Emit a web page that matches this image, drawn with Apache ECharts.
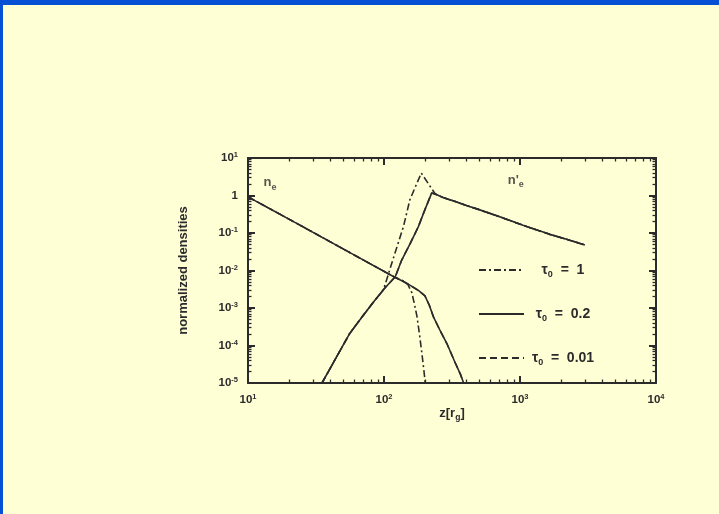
<!DOCTYPE html>
<html>
<head>
<meta charset="utf-8">
<script src="https://cdn.jsdelivr.net/npm/echarts@6/dist/echarts.min.js"></script>
<style>
  html, body { margin: 0; padding: 0; background: #ffffd6; }
  #chart { position: absolute; left: 0; top: 0; width: 719px; height: 514px; }
  .frame-top { position: absolute; left: 0; top: 0; width: 719px; height: 5px; background: #0650d5; }
  .frame-left { position: absolute; left: 0; top: 0; width: 3px; height: 514px; background: #0650d5; }
</style>
</head>
<body>
<div id="chart"></div>
<div class="frame-top"></div>
<div class="frame-left"></div>
<script>
// Axis decades (z in units of r_g, densities normalized)
const zTicks = [10, 100, 1000, 10000];
const densityTicks = [1e-5, 1e-4, 1e-3, 1e-2, 1e-1, 1, 10];

// Optical depth values shown in the legend
const tauValues = ['1', '0.2', '0.01'];

// n_e profiles
const neTau1 = [[10, 0.92], [20, 0.235], [40, 0.059], [80, 0.0148], [120, 0.0066], [140, 0.0052],
  [150, 0.0042], [160, 0.0026], [168, 0.0012], [175, 5.8e-4], [183, 1.8e-4], [190, 6.1e-5],
  [197, 2e-5], [201, 1e-5]];
const neTau02 = [[10, 0.92], [20, 0.235], [40, 0.059], [80, 0.0148], [120, 0.0066], [140, 0.0050],
  [156, 0.0040], [180, 0.0029], [200, 0.0021], [215, 0.0012], [231, 5.8e-4], [260, 2.4e-4],
  [290, 1.13e-4], [330, 3.8e-5], [365, 1.7e-5], [385, 1e-5]];
const neTau001 = [[10, 0.92], [20, 0.235], [40, 0.059], [80, 0.0148], [120, 0.0066], [140, 0.0050],
  [156, 0.0040], [180, 0.0029], [200, 0.0021], [215, 0.0012], [231, 5.8e-4], [260, 2.4e-4],
  [290, 1.13e-4], [330, 3.8e-5], [365, 1.7e-5], [385, 1e-5]];

// n'_e profiles
const nePrimeTau1 = [[35, 1e-5], [45, 5.1e-5], [56, 2.1e-4], [70, 6.2e-4], [84, 1.47e-3], [99, 3.0e-3],
  [116, 0.019], [139, 0.148], [155, 0.77], [188, 3.97], [238, 1.1], [272, 0.88], [330, 0.70],
  [404, 0.54], [500, 0.42], [710, 0.27], [1054, 0.16], [1656, 0.092], [2200, 0.068], [3000, 0.048]];
const nePrimeTau02 = [[35, 1e-5], [45, 5.1e-5], [56, 2.1e-4], [70, 6.2e-4], [84, 1.47e-3], [100, 3.2e-3],
  [121, 6.8e-3], [135, 0.019], [156, 0.053], [179, 0.148], [200, 0.42], [224, 1.16], [240, 1.08],
  [272, 0.88], [330, 0.70], [404, 0.54], [500, 0.42], [710, 0.27], [1054, 0.16], [1656, 0.092],
  [2200, 0.068], [3000, 0.048]];
const nePrimeTau001 = [[35, 1e-5], [45, 5.1e-5], [56, 2.1e-4], [70, 6.2e-4], [84, 1.47e-3], [100, 3.2e-3],
  [121, 6.8e-3], [135, 0.019], [156, 0.053], [179, 0.148], [200, 0.42], [224, 1.16], [240, 1.08],
  [272, 0.88], [330, 0.70], [404, 0.54], [500, 0.42], [710, 0.27], [1054, 0.16], [1656, 0.092],
  [2200, 0.068], [3000, 0.048]];

// Curve annotations: [z, density]
const neLabelAt = [14.5, 2.2];
const nePrimeLabelAt = [930, 2.6];

const ink = '#2b2b2b';
const font = '"Liberation Sans", Arial, sans-serif';

function minorOf(decades) {
  const out = [];
  for (let i = 0; i < decades.length - 1; i++) {
    for (let k = 2; k <= 9; k++) out.push(decades[i] * k);
  }
  return out;
}
const zMinor = minorOf(zTicks);
const densityMinor = minorOf(densityTicks);

function powerLabel(v) {
  const e = Math.round(Math.log10(v));
  if (e === 0) return '{b|1}';
  return '{b|10}{p|' + (e < 0 ? '-' + (-e) : e) + '}';
}
const powerRich = {
  b: { fontSize: 11.5, fontWeight: 'bold', color: ink, fontFamily: font, lineHeight: 14 },
  p: { fontSize: 7.5, fontWeight: 'bold', color: ink, fontFamily: font, verticalAlign: 'top', lineHeight: 14 }
};

function logAxis(range, position, major, minor, withLabels, isMinor, extra) {
  const base = {
    type: 'log', logBase: 10, min: range[0], max: range[1], position: position,
    splitLine: { show: false }, minorTick: { show: false },
    axisLine: { show: !isMinor, lineStyle: { color: ink, width: 2 } },
    axisTick: {
      show: true, inside: true, length: isMinor ? 3.5 : 7,
      customValues: isMinor ? minor : major,
      lineStyle: { color: ink, width: isMinor ? 1.3 : 2 }
    },
    axisLabel: withLabels
      ? { show: true, customValues: major, formatter: powerLabel, rich: powerRich, margin: 10 }
      : { show: false }
  };
  return Object.assign(base, extra || {});
}

const xRange = [zTicks[0], zTicks[zTicks.length - 1]];
const yRange = [densityTicks[0], densityTicks[densityTicks.length - 1]];

const lineDash = { '1': [7, 3, 2, 3], '0.2': 'solid', '0.01': [7, 4] };
const profiles = {
  '1': [neTau1, nePrimeTau1],
  '0.2': [neTau02, nePrimeTau02],
  '0.01': [neTau001, nePrimeTau001]
};
const seriesName = t => 'τ0 = ' + t;

const series = [];
tauValues.forEach(t => {
  profiles[t].forEach(data => {
    series.push({
      type: 'line', name: seriesName(t), data: data,
      xAxisIndex: 0, yAxisIndex: 0,
      symbol: 'none', smooth: false, silent: true,
      lineStyle: { color: ink, width: 1.6, type: lineDash[t] },
      itemStyle: { color: ink }
    });
  });
});

const annotRich = {
  n: { fontSize: 13, fontWeight: 'bold', color: ink, fontFamily: font, lineHeight: 18 },
  s: { fontSize: 9, fontWeight: 'bold', color: ink, fontFamily: font, verticalAlign: 'bottom', lineHeight: 18 }
};
series.push({
  type: 'scatter', name: 'annotations', silent: true, symbolSize: 0,
  xAxisIndex: 0, yAxisIndex: 0,
  data: [
    { value: neLabelAt, label: { formatter: '{n|n}{s|e}' } },
    { value: nePrimeLabelAt, label: { formatter: "{n|n'}{s|e}" } }
  ],
  label: { show: true, position: 'inside', rich: annotRich }
});

const legendRich = {
  t: { fontSize: 14, fontWeight: 'bold', color: ink, fontFamily: font, align: 'center', lineHeight: 18 },
  s: { fontSize: 9, fontWeight: 'bold', color: ink, fontFamily: font, align: 'center', verticalAlign: 'bottom', lineHeight: 18 },
  r: { fontSize: 14, fontWeight: 'bold', color: ink, fontFamily: font, align: 'center', lineHeight: 18 }
};

const chart = echarts.init(document.getElementById('chart'), null, { renderer: 'canvas' });
chart.setOption({
  animation: false,
  backgroundColor: 'transparent',
  textStyle: { fontFamily: font },
  grid: { left: 248, top: 158, right: 63, bottom: 131, containLabel: false, outerBoundsMode: 'none' },
  legend: {
    data: tauValues.map(seriesName),
    orient: 'vertical', left: 473, top: 258,
    itemWidth: 45, itemHeight: 14, itemGap: 28,
    selectedMode: false,
    itemStyle: { opacity: 0, borderWidth: 0 },
    formatter: name => '{t|τ}{s|0}{r|  =  ' + name.split('= ')[1] + '}',
    textStyle: { width: 68, rich: legendRich }
  },
  xAxis: [
    logAxis(xRange, 'bottom', zTicks, zMinor, true, false, {
      name: 'z[r{sub|g}]', nameLocation: 'middle', nameGap: 22, nameMoveOverlap: false,
      nameTextStyle: {
        fontSize: 13, fontWeight: 'bold', color: ink, fontFamily: font,
        rich: { sub: { fontSize: 8.5, fontWeight: 'bold', color: ink, verticalAlign: 'bottom', lineHeight: 17 } }
      }
    }),
    logAxis(xRange, 'bottom', zTicks, zMinor, false, true),
    logAxis(xRange, 'top', zTicks, zMinor, false, false),
    logAxis(xRange, 'top', zTicks, zMinor, false, true)
  ],
  yAxis: [
    logAxis(yRange, 'left', densityTicks, densityMinor, true, false, {
      name: 'normalized densities', nameLocation: 'middle', nameGap: 58, nameMoveOverlap: false,
      nameTextStyle: { fontSize: 13, fontWeight: 'bold', color: ink, fontFamily: font }
    }),
    logAxis(yRange, 'left', densityTicks, densityMinor, false, true),
    logAxis(yRange, 'right', densityTicks, densityMinor, false, false),
    logAxis(yRange, 'right', densityTicks, densityMinor, false, true)
  ],
  series: series
});
</script>
</body>
</html>
